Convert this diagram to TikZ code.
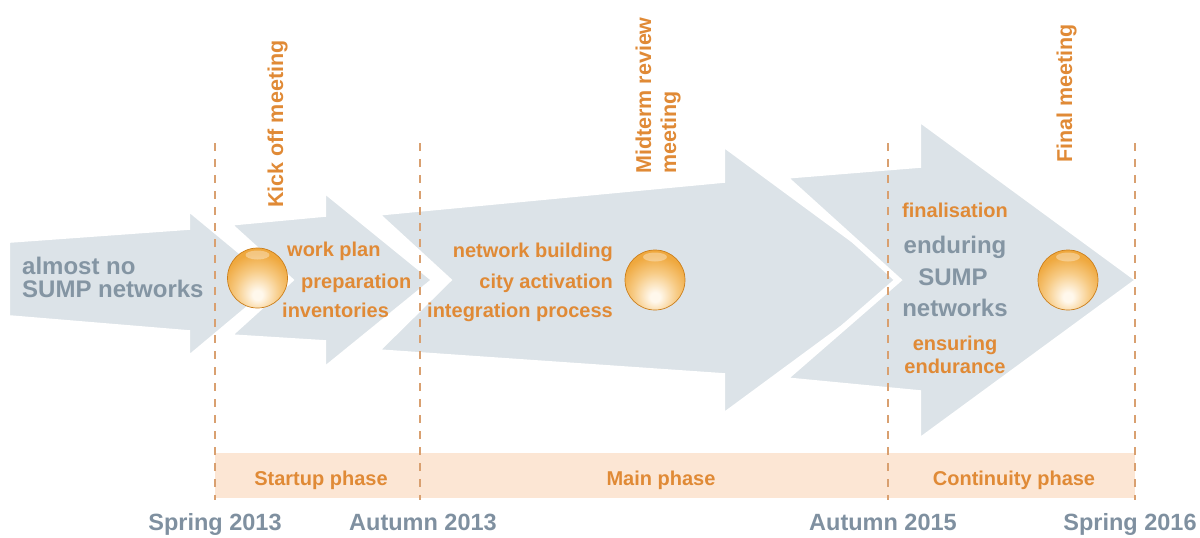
\documentclass[tikz,border=0pt]{standalone}
\usepackage{fontspec}
\setmainfont{Liberation Sans}
\definecolor{arrowgrey}{HTML}{DCE3E8}
\definecolor{orangetxt}{HTML}{E08A36}
\definecolor{greytxt}{HTML}{8495A3}
\definecolor{datetxt}{HTML}{7F90A0}
\definecolor{dashcol}{HTML}{D9A070}
\definecolor{bandcol}{HTML}{FCE6D4}
\definecolor{ballmain}{HTML}{EFA83E}
\definecolor{balldark}{HTML}{DA8C20}
\definecolor{ballrim}{HTML}{CB7E1A}
\definecolor{orbwhite}{HTML}{FFF8EC}
\definecolor{orblight}{HTML}{F7CB85}
\pgfdeclareradialshading{orbshade}{\pgfpoint{0bp}{-15bp}}{%
  color(0bp)=(orbwhite); color(4bp)=(orbwhite); color(18bp)=(orblight);
  color(30bp)=(ballmain); color(48bp)=(ballmain); color(62bp)=(balldark); color(80bp)=(balldark)}
\begin{document}
\begin{tikzpicture}[x=1pt,y=-1pt,
  arrowshape/.style={fill=arrowgrey, draw=white, line width=6pt, line join=miter},
  vdash/.style={draw=dashcol, line width=1.2pt, dash pattern=on 8pt off 8pt},
  greyt/.style={font=\fontsize{24}{24}\selectfont\bfseries, text=greytxt, inner sep=0pt},
  oranget/.style={font=\fontsize{20}{20}\selectfont\bfseries, text=orangetxt, inner sep=0pt},
  meett/.style={font=\fontsize{21.5}{21.5}\selectfont\bfseries, text=orangetxt, inner sep=0pt, rotate=90, anchor=base west},
  datet/.style={font=\fontsize{23.5}{23.5}\selectfont\bfseries, text=datetxt, inner sep=0pt, anchor=base},
  phaset/.style={font=\fontsize{20}{20}\selectfont\bfseries, text=orangetxt, inner sep=0pt, anchor=base},
  orb/.style={circle, minimum size=60pt, inner sep=0pt, shading=orbshade,
    draw=ballrim, line width=0.7pt,
    path picture={
      \fill[white, opacity=0.35]
        ([yshift=23pt]path picture bounding box.center) ellipse (12pt and 4.5pt);
    }}
]
\useasboundingbox (0,0) rectangle (1200,538);

% arrows
\path[arrowshape] (7,240) -- (187,227) -- (187,207) -- (279,283) -- (187,360) -- (187,333) -- (7,318) -- cycle;
\path[arrowshape] (227,223) -- (323,214) -- (323,189) -- (435,280) -- (323,371) -- (323,343) -- (227,337) -- (290,280) -- cycle;
\path[arrowshape] (375,213) -- (722,180) -- (722,143) -- (908,280) -- (722,417) -- (722,376) -- (375,352) -- (448,280) -- cycle;
\path[arrowshape] (783,176) -- (918,165) -- (918,118) -- (1139,280) -- (918,442) -- (918,393) -- (783,380) -- (898,280) -- cycle;

% phase band
\fill[bandcol] (215,453) rectangle (1135,498);

% dashed time markers
\coordinate (d1t) at (215,143); \coordinate (d1b) at (215,500);
\coordinate (d2t) at (420,143); \coordinate (d2b) at (420,500);
\coordinate (d3t) at (888,143); \coordinate (d3b) at (888,500);
\coordinate (d4t) at (1135,143); \coordinate (d4b) at (1135,500);
\draw[vdash] (d1t) -- (d1b);
\draw[vdash] (d2t) -- (d2b);
\draw[vdash] (d3t) -- (d3b);
\draw[vdash] (d4t) -- (d4b);

% balls
\node[orb] (ball1) at (257.5,278) {};
\node[orb] (ball2) at (655,280) {};
\node[orb] (ball3) at (1068,280) {};

% start text
\node[greyt, anchor=base west] (s1) at (22,274) {almost no};
\node[greyt, anchor=base west] (s2) at (22,297.5) {SUMP networks};

% startup phase text
\node[oranget, anchor=base west] (a1) at (287,256) {work plan};
\node[oranget, anchor=base west] (a2) at (301,288) {preparation};
\node[oranget, anchor=base west] (a3) at (282,317) {inventories};

% main phase text
\node[oranget, anchor=base east] (b1) at (613,257) {network building};
\node[oranget, anchor=base east] (b2) at (613,288) {city activation};
\node[oranget, anchor=base east] (b3) at (613,317) {integration process};

% continuity phase text
\node[oranget, anchor=base] (c1) at (955,217) {finalisation};
\node[greyt, anchor=base] (c2) at (955,253) {enduring};
\node[greyt, anchor=base] (c3) at (953,285) {SUMP};
\node[greyt, anchor=base] (c4) at (955,316) {networks};
\node[oranget, anchor=base] (c5) at (955,350) {ensuring};
\node[oranget, anchor=base] (c6) at (955,373) {endurance};

% meetings
\node[meett] (m1) at (283,208) {Kick off meeting};
\node[meett] (m2a) at (651,174) {Midterm review};
\node[meett] (m2b) at (676,174) {meeting};
\node[meett] (m3) at (1072,163) {Final meeting};

% phases
\node[phaset] (p1) at (321,485) {Startup phase};
\node[phaset] (p2) at (661,485) {Main phase};
\node[phaset] (p3) at (1014,485) {Continuity phase};

% dates
\node[datet] (t1) at (215,530) {Spring 2013};
\node[datet] (t2) at (423,530) {Autumn 2013};
\node[datet] (t3) at (883,530) {Autumn 2015};
\node[datet] (t4) at (1130,530) {Spring 2016};
\end{tikzpicture}
\end{document}
